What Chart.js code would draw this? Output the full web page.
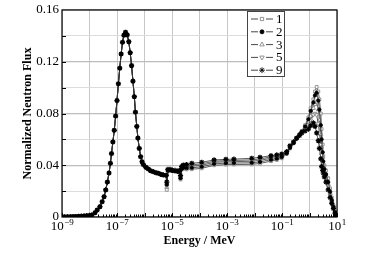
<!DOCTYPE html>
<html>
<head>
<meta charset="utf-8">
<style>
html, body { margin: 0; padding: 0; background: #fff; }
</style>
<script src="https://cdn.jsdelivr.net/npm/chart.js"></script>
</head>
<body>
<canvas id="flux" width="368" height="253"></canvas>
<script>
// thermal part, the same for every case (log10 of energy in MeV)
var lowLogE = [-9.0, -8.9, -8.8, -8.7, -8.6, -8.5, -8.4, -8.3, -8.2, -8.1, -8.0,
    -7.92, -7.8, -7.72, -7.62, -7.54, -7.47, -7.41, -7.35, -7.29, -7.24,
    -7.2, -7.15, -7.1, -7.05, -7.0, -6.95, -6.9, -6.85, -6.8, -6.75,
    -6.69, -6.63, -6.57, -6.52, -6.47, -6.42, -6.37, -6.33, -6.28, -6.24,
    -6.19, -6.14, -6.09, -6.04, -5.95, -5.86, -5.78, -5.68, -5.58, -5.5,
    -5.41, -5.32, -5.21]
var lowFlux = [0.0001, 0.0001, 0.0002, 0.0002, 0.0003, 0.0004, 0.0005, 0.0006, 0.0008, 0.001, 0.0012,
    0.0015, 0.0033, 0.0054, 0.008, 0.0118, 0.0157, 0.0209, 0.027, 0.034, 0.0415,
    0.049, 0.058, 0.067, 0.078, 0.09, 0.103, 0.115, 0.126, 0.135, 0.1405,
    0.1428, 0.1408, 0.1355, 0.127, 0.117, 0.105, 0.093, 0.081, 0.07, 0.061,
    0.053, 0.0466, 0.0427, 0.0405, 0.0384, 0.0371, 0.0358, 0.035, 0.0342, 0.0338,
    0.033, 0.0325, 0.0322]

// epithermal + fast part, one list per case
var highLogE = [-5.19, -5.15, -5.07, -4.99, -4.89, -4.79, -4.72, -4.69, -4.65, -4.59,
    -4.47, -4.28, -3.92, -3.47, -3.04, -2.75, -2.1, -1.8, -1.4, -1.19,
    -1.01, -0.83, -0.71, -0.58, -0.47, -0.36, -0.28, -0.16, -0.04, 0.04,
    0.14, 0.2, 0.26, 0.32, 0.36, 0.41, 0.44, 0.48, 0.5, 0.54,
    0.6, 0.68, 0.75, 0.81, 0.87, 0.93, 0.99]
var flux1 = [0.021, 0.0355, 0.036, 0.0355, 0.0352, 0.0348, 0.0352, 0.029, 0.0365, 0.0372,
    0.0368, 0.0369, 0.0376, 0.04, 0.0405, 0.0406, 0.0407, 0.0414, 0.0432, 0.0441,
    0.0454, 0.0487, 0.053, 0.057, 0.0605, 0.064, 0.0665, 0.071, 0.077, 0.084,
    0.091, 0.097, 0.1005, 0.097, 0.091, 0.08, 0.068, 0.056, 0.047, 0.04,
    0.036, 0.03, 0.022, 0.015, 0.009, 0.004, 0.0005]
var flux2 = [0.025, 0.0358, 0.0362, 0.0357, 0.0354, 0.035, 0.0354, 0.03, 0.0372, 0.038,
    0.0378, 0.038, 0.0388, 0.0411, 0.0416, 0.0417, 0.0419, 0.0426, 0.0443, 0.0451,
    0.0463, 0.0492, 0.0535, 0.0572, 0.0606, 0.0638, 0.066, 0.07, 0.0755, 0.082,
    0.0885, 0.094, 0.096, 0.09, 0.083, 0.071, 0.06, 0.05, 0.043, 0.037,
    0.033, 0.027, 0.0195, 0.013, 0.008, 0.0035, 0.0004]
var flux3 = [0.023, 0.0361, 0.0364, 0.0359, 0.0356, 0.0351, 0.0356, 0.0305, 0.0378, 0.0388,
    0.0388, 0.0392, 0.04, 0.0422, 0.0427, 0.0428, 0.0431, 0.0438, 0.0454, 0.046,
    0.0471, 0.0496, 0.054, 0.0575, 0.0607, 0.0636, 0.0658, 0.069, 0.0735, 0.078,
    0.084, 0.087, 0.089, 0.083, 0.075, 0.064, 0.054, 0.046, 0.04, 0.035,
    0.031, 0.025, 0.018, 0.012, 0.0075, 0.0035, 0.0004]
var flux5 = [0.024, 0.0364, 0.0366, 0.036, 0.0358, 0.0353, 0.0358, 0.031, 0.0384, 0.0395,
    0.0396, 0.0403, 0.0411, 0.0431, 0.0436, 0.0437, 0.0442, 0.0449, 0.0464, 0.047,
    0.0479, 0.05, 0.0545, 0.0578, 0.0608, 0.0634, 0.0655, 0.068, 0.071, 0.075,
    0.079, 0.08, 0.079, 0.072, 0.065, 0.056, 0.048, 0.042, 0.038, 0.034,
    0.03, 0.024, 0.017, 0.0115, 0.007, 0.0032, 0.0004]
var flux9 = [0.027, 0.0368, 0.0368, 0.0362, 0.036, 0.0355, 0.036, 0.032, 0.039, 0.0402,
    0.0405, 0.0415, 0.0423, 0.0441, 0.0446, 0.0447, 0.0454, 0.0461, 0.0474, 0.048,
    0.0487, 0.0505, 0.055, 0.058, 0.061, 0.063, 0.065, 0.0665, 0.068, 0.0705,
    0.0727, 0.07, 0.065, 0.059, 0.053, 0.045, 0.039, 0.036, 0.034, 0.031,
    0.027, 0.021, 0.015, 0.0105, 0.0065, 0.003, 0.0003]

var caseNames = ['1', '2', '3', '5', '9']
var yTicks = [0, 0.04, 0.08, 0.12, 0.16]
var xTickExp = [-9, -7, -5, -3, -1, 1]
var decadeExp = [-9, -8, -7, -6, -5, -4, -3, -2, -1, 0, 1]

var serif = "'Liberation Serif', 'Times New Roman', serif"

var marks = [
    {style: 'rect', rot: 0, r: 2, fill: '#fff', stroke: '#888', bw: 0.9, order: 4},
    {style: 'circle', rot: 0, r: 1.7, fill: '#000', stroke: '#000', bw: 0.8, order: 1},
    {style: 'triangle', rot: 0, r: 2.3, fill: '#fff', stroke: '#888', bw: 0.9, order: 3},
    {style: 'triangle', rot: 180, r: 2.3, fill: '#fff', stroke: '#888', bw: 0.9, order: 2},
    {style: 'star', rot: 0, r: 2.6, fill: '#000', stroke: '#000', bw: 1.2, order: 0}
]

var toPoints = (hi) => lowLogE.map((e, i) => ({x: Math.pow(10, e), y: lowFlux[i]}))
    .concat(highLogE.map((e, i) => ({x: Math.pow(10, e), y: hi[i]})))

var series = [flux1, flux2, flux3, flux5, flux9]
var datasets = series.map((s, i) => ({
    label: caseNames[i],
    data: toPoints(s),
    borderColor: '#333',
    borderWidth: 0.8,
    tension: 0,
    pointStyle: marks[i].style,
    rotation: marks[i].rot,
    pointRadius: marks[i].r,
    pointBackgroundColor: marks[i].fill,
    pointBorderColor: marks[i].stroke,
    pointBorderWidth: marks[i].bw,
    order: marks[i].order
}))

var drawMark = (ctx, m, x, y) => {
    ctx.fillStyle = m.fill
    ctx.strokeStyle = m.stroke
    Chart.helpers.drawPoint(ctx, {pointStyle: m.style, rotation: m.rot, radius: m.r + 0.3, borderWidth: m.bw}, x, y)
}

var decor = {
    id: 'decor',
    afterDraw: (chart) => {
        var ctx = chart.ctx
        var a = chart.chartArea
        var xs = chart.scales.x
        var ys = chart.scales.y
        ctx.save()

        // frame
        ctx.strokeStyle = '#000'
        ctx.lineWidth = 1.2
        ctx.strokeRect(a.left, a.top, a.right - a.left, a.bottom - a.top)

        // inner ticks
        ctx.lineWidth = 1
        ctx.beginPath()
        for (var v = 0.02; v < 0.16; v += 0.02) {
            var py = Math.round(ys.getPixelForValue(v)) + 0.5
            ctx.moveTo(a.left, py)
            ctx.lineTo(a.left + 4, py)
        }
        decadeExp.forEach((e) => {
            var px = Math.round(xs.getPixelForValue(Math.pow(10, e))) + 0.5
            ctx.moveTo(px, a.bottom)
            ctx.lineTo(px, a.bottom - 4)
            if (e < 1) {
                for (var k = 2; k < 10; k++) {
                    var mx = Math.round(xs.getPixelForValue(k * Math.pow(10, e))) + 0.5
                    ctx.moveTo(mx, a.bottom)
                    ctx.lineTo(mx, a.bottom - 2.5)
                }
            }
        })
        ctx.stroke()

        // y tick labels
        ctx.fillStyle = '#000'
        ctx.font = '13px ' + serif
        ctx.textAlign = 'right'
        ctx.textBaseline = 'middle'
        yTicks.forEach((v) => {
            ctx.fillText(v === 0 ? '0' : v.toFixed(2), a.left - 3, ys.getPixelForValue(v))
        })

        // x tick labels, 10 with superscript
        ctx.textAlign = 'left'
        ctx.textBaseline = 'alphabetic'
        xTickExp.forEach((e) => {
            var px = xs.getPixelForValue(Math.pow(10, e))
            var sup = e < 0 ? '\u2212' + Math.abs(e) : String(e)
            ctx.font = '13px ' + serif
            var w1 = ctx.measureText('10').width
            ctx.font = '9px ' + serif
            var w2 = ctx.measureText(sup).width
            var x0 = px - (w1 + w2) / 2
            ctx.font = '13px ' + serif
            ctx.fillText('10', x0, a.bottom + 13)
            ctx.font = '9px ' + serif
            ctx.fillText(sup, x0 + w1 + 0.5, a.bottom + 8)
        })

        // axis titles
        ctx.font = 'bold 12px ' + serif
        ctx.textAlign = 'center'
        ctx.fillText('Energy / MeV', (a.left + a.right) / 2, a.bottom + 27)
        ctx.save()
        ctx.translate(28, (a.top + a.bottom) / 2)
        ctx.rotate(-Math.PI / 2)
        ctx.textBaseline = 'middle'
        ctx.fillText('Normalized Neutron Flux', 0, 0)
        ctx.restore()

        // legend box
        var lx = 247, ly = 11, lw = 37, lh = 65
        ctx.fillStyle = '#fff'
        ctx.fillRect(lx, ly, lw, lh)
        ctx.strokeStyle = '#444'
        ctx.lineWidth = 1
        ctx.strokeRect(lx + 0.5, ly + 0.5, lw, lh)
        ctx.font = '13px ' + serif
        ctx.textAlign = 'left'
        ctx.textBaseline = 'middle'
        caseNames.forEach((n, i) => {
            var ry = ly + 8 + i * 12.8
            ctx.strokeStyle = '#333'
            ctx.lineWidth = 0.9
            ctx.beginPath()
            ctx.moveTo(251, ry)
            ctx.lineTo(258, ry)
            ctx.moveTo(266, ry)
            ctx.lineTo(273, ry)
            ctx.stroke()
            drawMark(ctx, marks[i], 262, ry)
            ctx.fillStyle = '#000'
            ctx.fillText(n, 276, ry + 0.5)
        })
        ctx.restore()
    }
}

var fluxChart = new Chart(document.getElementById('flux'), {
    type: 'line',
    data: {datasets: datasets},
    options: {
        responsive: false,
        animation: false,
        layout: {padding: {left: 62, top: 10, right: 31, bottom: 36}},
        plugins: {legend: {display: false}, tooltip: {enabled: false}},
        scales: {
            x: {
                type: 'logarithmic',
                min: 1e-9,
                max: 10,
                afterBuildTicks: (s) => { s.ticks = decadeExp.map((e) => ({value: Math.pow(10, e)})) },
                ticks: {display: false},
                grid: {color: '#c8c8c8', lineWidth: 1, drawTicks: false},
                border: {display: false}
            },
            y: {
                min: 0,
                max: 0.16,
                ticks: {display: false, stepSize: 0.02},
                grid: {
                    color: (c) => (Math.round(c.tick.value * 100) % 4 === 0 ? '#bdbdbd' : '#dcdcdc'),
                    lineWidth: (c) => (Math.round(c.tick.value * 100) % 4 === 0 ? 1.3 : 1),
                    drawTicks: false
                },
                border: {display: false}
            }
        }
    },
    plugins: [decor]
})
</script>
</body>
</html>
